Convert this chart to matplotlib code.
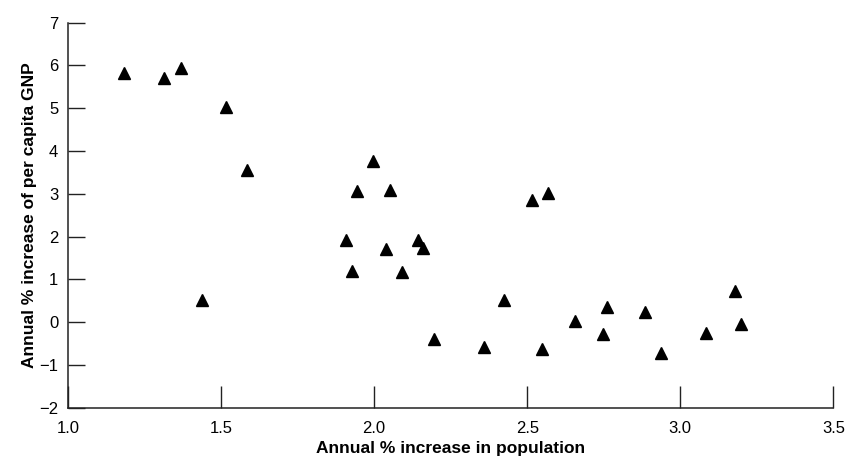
import matplotlib.pyplot as plt
import numpy as np

# annual % increase in population vs annual % increase of per capita GNP
pop_growth = [1.183, 1.313, 1.369, 1.516, 1.585, 1.439,
              1.996, 1.943, 2.053, 1.909, 2.038, 2.144, 2.160, 1.929, 2.092,
              2.517, 2.569, 2.424, 2.657, 2.197, 2.360, 2.548,
              2.761, 2.749, 2.885, 2.936, 3.085, 3.180, 3.199]
gnp_growth = [5.83, 5.70, 5.94, 5.03, 3.55, 0.52,
              3.77, 3.07, 3.09, 1.93, 1.71, 1.92, 1.73, 1.20, 1.17,
              2.85, 3.03, 0.52, 0.02, -0.39, -0.58, -0.62,
              0.35, -0.27, 0.23, -0.71, -0.25, 0.72, -0.04]

x_ticks = [1.0, 1.5, 2.0, 2.5, 3.0, 3.5]
y_ticks = list(range(-2, 8))

plt.rcParams['font.family'] = ['Liberation Sans', 'DejaVu Sans']

fig = plt.figure(figsize=(8.48, 4.61), dpi=100)
ax = fig.add_axes([0.0802, 0.1156, 0.9025, 0.8352])

ax.plot(pop_growth, gnp_growth, '^', color='black', markersize=8, clip_on=False)

ax.set_xlim(1.0, 3.5)
ax.set_ylim(-2, 7)
ax.set_xticks(x_ticks)
ax.set_xticklabels([f"{t:.1f}" for t in x_ticks])
ax.set_yticks(y_ticks)
ax.set_yticklabels([str(t).replace('-', '\u2212') for t in y_ticks])

for s in ['top', 'right']:
    ax.spines[s].set_visible(False)
for s in ['left', 'bottom']:
    ax.spines[s].set_linewidth(1.1)
    ax.spines[s].set_color('#222222')

ax.tick_params(axis='x', direction='in', length=16, width=1.0, pad=9.5,
               labelsize=12, color='#222222')
ax.tick_params(axis='y', direction='in', length=12, width=1.0, pad=7,
               labelsize=12, color='#222222')

ax.set_xlabel('Annual % increase in population', fontsize=12.5, fontweight='bold', labelpad=4)
ax.set_ylabel('Annual % increase of per capita GNP', fontsize=12.5, fontweight='bold', labelpad=1.5)

fig.savefig('out.png', dpi=100)
